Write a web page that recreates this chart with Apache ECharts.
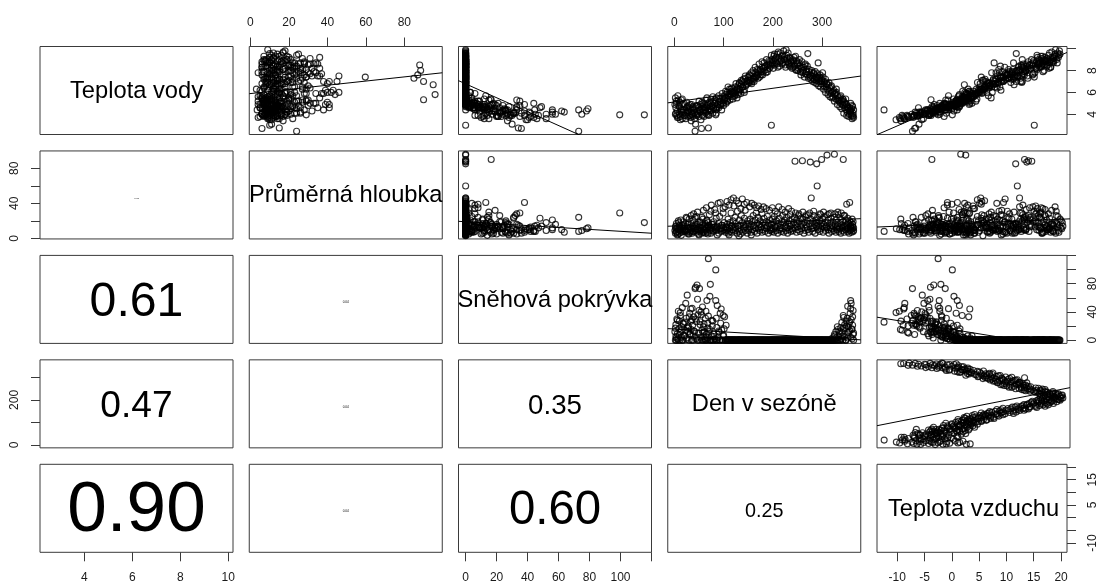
<!DOCTYPE html>
<html>
<head>
<meta charset="utf-8">
<title>Párový graf</title>
<script src="https://cdn.jsdelivr.net/npm/echarts@6/dist/echarts.min.js"></script>
<style>
  html, body { margin: 0; padding: 0; background: #ffffff; }
  #chart { width: 1099px; height: 588px; }
</style>
</head>
<body>
<div id="chart"></div>
<script>
// Názvy proměnných (pořadí sloupců i řádků matice)
const promenne = ['Teplota vody', 'Průměrná hloubka', 'Sněhová pokrývka', 'Den v sezóně', 'Teplota vzduchu'];

// Jednotlivá měření, jedna hodnota na pozorování v každém poli (dvě sezóny za sebou)
const teplotaVody = [
  4.9,5.5,4.1,4.6,5.2,3.9,4.3,5.7,3.7,4.8, 4.0,5.1,3.8,4.5,5.3,4.2,3.6,4.9,4.4,5.0, 4.4,3.9,4.1,4.6,4.2,4.7,3.8,
  4.3,4.8,3.9,4.5,3.7,4.2,4.9,4.0,3.8,4.6, 4.4,4.1,2.45,4.0,4.7,3.9,4.3,4.8,4.1,4.6, 3.8,4.4,4.2,4.9,2.7,4.5,3.9,5.0,4.3,4.6,
  4.4,4.9,4.1,5.3,4.6,4.0,4.8,4.3,3.95,2.75, 5.1,4.7,4.5,5.4,4.4,4.8,4.1,5.2,4.6,5.0, 3.95,4.4,5.5,4.5,4.7,5.1,4.6,5.4,4.9,5.0, 4.4,5.6,5.2,4.8,5.3,5.5,5.8,5.0,
  5.4,6.0,5.2,5.7,5.9,6.3,5.3,5.8,6.1,6.4, 5.6,6.0,5.9,6.5,5.8,6.2,5.5,6.6,6.0,6.3, 6.8,6.3,5.9,6.7,7.0,6.5,6.9,6.2,7.3,6.6, 7.0,6.8,7.4,
  6.9,7.5,7.1,7.2,6.8,7.7,7.3,7.0,7.4,7.8, 7.5,7.6,8.0,7.7,7.4,8.1,7.9,8.3,7.6,8.2, 8.0,8.4,7.8,8.5,8.1,8.6,8.2,8.8,3.0,
  8.4,9.0,8.6,8.9,9.3,8.5,9.1,8.7,9.5,8.3, 9.2,8.8,9.6,8.9,8.6,9.4,9.0,9.3,8.5,9.9, 9.1,8.8,8.7,9.2,8.4,8.9,8.6,9.0,
  8.3,9.2,8.5,8.1,8.9,8.6,8.0,8.7,8.4,7.9, 8.2,8.0,7.8,8.3,8.5,7.7,8.1,7.6,9.55,7.9, 7.4,7.6,7.5,7.8,7.3,7.7,7.2,7.9,7.1,7.3, 7.4,
  8.7,7.3,7.0,7.6,6.8,7.0,7.1,7.4,6.6,6.9, 7.2,6.5,6.7,6.3,6.7,6.1,6.4,5.9,6.6,6.0, 5.6,6.2,5.8,5.9,5.4,6.3,5.7,5.3,5.5,
  5.2,5.6,5.0,5.3,4.9,5.4,5.33,4.8,5.1,4.6, 5.0,4.4,4.9,4.2,4.7,4.5,4.0,4.6,4.3,4.2, 4.4,3.9,4.5,4.8,3.8,4.1,3.7,4.4,
  4.0,5.0,3.7,5.3,4.7,3.5,4.4,5.4,4.2,3.9, 3.6,5.1,4.3,4.6,4.9,3.4,4.0,4.7,3.6,3.1, 4.8,4.0,5.2,4.4,3.5,5.1,4.7,3.8,
  4.6,4.2,5.5,4.9,3.9,4.3,5.0,4.7,5.6,4.5, 5.3,4.1,4.9,5.7,5.2,4.8,5.9,5.0,5.4,6.1,
  5.2,6.5,5.6,5.9,6.3,6.0,5.4,6.1,5.7,6.8, 6.4,5.8,6.9,6.2,7.1,6.5,7.2,6.0,7.5,6.7, 7.1,
  7.6,6.9,7.8,7.0,8.0,7.2,8.3,7.4,8.1,7.3, 8.6,8.0,7.6,8.8,7.9,8.7,8.3,9.0,7.9,8.9, 8.5,
  9.4,8.7,8.2,9.5,8.9,9.2,8.6,9.7,8.4,9.0, 9.3,8.7,9.8,9.0,8.3,9.4,9.6,8.5,9.1,8.8, 8.2,
  8.9,8.4,9.3,8.0,8.7,8.2,9.0,7.6,8.8,8.3, 7.4,8.6,7.9,8.4,7.3,8.1,7.2,8.0,7.0,7.8, 6.9,7.5,6.8,
  7.7,6.6,7.4,6.5,7.2,7.8,6.3,7.0,6.0,6.8, 5.8,6.9,5.6,6.5,5.5,6.1,5.2,5.9,6.0,4.9, 5.3,
  4.7,5.7,4.5,5.2,4.1,4.9,5.4,3.9,4.6,3.8, 4.3,5.0,4.0,3.6,4.7,3.9
];
const hloubka = [
  9,6,11,14,7,8,12,5,10,18, 6,13,9,21,7,12,15,8,11,16, 8,10,24,9,7,13,5,
  10,22,7,13,9,26,11,6,14,8, 28,12,24,9,16,7,11,30,10,5, 13,8,19,9,6,24,12,7,32,10,
  9,14,6,11,35,21,7,13,18,15, 27,9,12,6,38,11,16,8,13,33, 29,10,12,9,14,40,6,11,41,8, 15,9,29,12,10,36,7,13,
  9,42,11,6,38,12,8,44,14,7, 10,46,37,9,13,43,6,11,40,3.1, 8,15,34,10,45,7,12,39,9,13, 41,6,11,
  9,36,13,7,40,10,14,38,8,12, 35,6,11,37,9,13,33,7,10,36, 12,8,34,11,14,6,32,9,10,
  12,8,35,11,7,13,31,9,14,6, 36,10,12,8,33,11,7,13,30,9, 12,6,34,10,14,8,31,11,
  9,12,88,29,7,13,10,28,8,14, 11,88.5,30,6,12,9,27,13,10,7, 29,87,46,11,8,31,12,6,14,85, 59.7,
  10,13,8,28,11,90,14,7,30,12, 9,13,95,27,10,6,12,29,8,11, 14,9,96,28,7,12,10,30,8,
  13,11,6,29,12,9,90,14,7,26, 10,13,39,11,8,12,6,41,9,12, 14,10,7,11,13,8,12,9,
  13,17,4,20,15,11,3.5,10,19,14, 9,23,16,5,12,17,8,21,14,11, 25,16,4,18,10,15,22,7,
  17,12,20,5,14,10,31,16,9,19, 13,23,4,17,25,11,15,34,18,12,
  16,22,4,18,29,15,20,12,24,17, 31,14,21,5,26,18,15,23,32,16, 20,
  17,22,4,19,26,15,21,29,17,24, 16,20,13,28,18,23,15,19,25,17, 21,
  16,22,18,25,14,20,28,17,23,15, 19,26,18,21,14,24,17,20,27,16, 22,
  18,24,15,21,17,26,19,23,16,22, 18,25,15,20,27,17,22,14,19,26, 16,21,18,
  24,15,20,27,17,22,16,25,18,14, 21,28,17,23,15,19,24,16,21,14, 27,
  17,22,15,19,26,14,21,16,23,17, 20,15,18,22,16,19
];
const snih = [
  12,0,22,5,0,30,9,2,41,16, 27,0,35,11,4,19,46,0,24,7, 25.5,14,31,3,63.7,12,20,
  18,0,38,8,44,15,0,29,21,6, 33,13,73,75,2,26,78,0,36,10, 42,73,22,4,36,14,47,0,19,5,
  12,0,31,0,8,56,3,24,115.4,34, 0,15,79,0,6,20,27,0,9,2, 99.5,56,0,18,49,4,11,0,38,44, 14,0,35,7,33,0,0,21,
  0,0,0,0,0,0,0,0,0,0, 0,0,0,0,0,0,0,0,0,0, 0,0,0,0,0,0,0,0,0,0, 0,0,0,
  0,0,0,0,0,0,0,0,0,0, 0,0,0,0,0,0,0,0,0,0, 0,0,0,0,0,0,0,0,0,
  0,0,0,0,0,0,0,0,0,0, 0,0,0,0,0,0,0,0,0,0, 0,0,0,0,0,0,0,0,
  0,0,0,0,0,0,0,0,0,0, 0,0,0,0,0,0,0,0,0,0, 0,0,0,0,0,0,0,0,0,0, 0,
  0,0,0,0,0,0,0,0,0,0, 0,0,0,0,0,0,0,0,0,3, 0,0,0,6,12,0,0,15,4,
  9,0,18,2,11,0,16.5,35,5,22, 0,27,8,31,3,19,24,13,38,56, 44.6,29,16,2,21,42,10,0,
  17,3,28,0,8,39,14,0,23,6, 52,1,17,33,9,27,45,0,12,30, 4,58,0,26,40,0,11,23,
  2,41,0,17,12,62,0,28,0,5, 0,31,0,13,0,24,0,6,16,0,
  0,0,0,0,0,0,0,0,0,0, 0,0,0,0,0,0,0,0,0,0, 0,
  0,0,0,0,0,0,0,0,0,0, 0,0,0,0,0,0,0,0,0,0, 0,
  0,0,0,0,0,0,0,0,0,0, 0,0,0,0,0,0,0,0,0,0, 0,
  0,0,0,0,0,0,0,0,0,0, 0,0,0,0,0,0,0,0,0,0, 0,0,0,
  0,0,0,0,0,0,0,0,0,0, 0,0,0,0,0,0,8,0,3,19, 0,
  13,0,25,6,32,17,0,20,48,11, 26,4,52,15,33,8
];
const den = [
  1,2,3,3,4,5,6,7,8,9, 10,11,12,13,14,15,16,17,18,19, 21,22,24,25,26,27,28,
  29,30,31,32,33,34,35,36,37,38, 39,40,42,43,44,45,46,47,48,49, 50,51,52,53,55,56,57,58,59,60,
  61,62,63,64,65,66,67,68,69,69, 71,72,73,74,75,77,78,79,80,82, 84,84,85,86,87,89,90,92,93,95, 96,98,99,100,102,103,104,105,
  106,107,108,109,111,112,113,115,116,117, 119,120,121,123,124,126,127,129,130,131, 132,133,135,136,138,139,141,142,144,145, 147,148,150,
  151,153,154,156,157,159,160,162,163,165, 167,168,170,171,173,175,176,178,179,181, 183,184,186,188,189,191,193,194,197,
  196,198,199,201,202,204,205,207,209,210, 212,214,215,217,219,220,222,224,225,227, 229,230,232,234,235,237,238,240,
  241,243,245,246,248,250,251,253,255,256, 258,260,261,263,265,266,268,270,271,273, 275,276,278,279,281,283,284,286,288,289, 290,
  292,293,295,296,298,299,300,302,303,305, 307,308,310,311,313,314,316,318,319,321, 322,324,325,326,328,329,331,332,334,
  335,336,338,339,341,342,343,343,345,346, 348,349,350,351,352,353,355,356,357,358, 358,359,360,361,362,363,364,364,
  2,4,6,8,10,12,14,16,18,20, 23,25,27,30,32,34,36,38,41,43, 45,47,50,52,54,56,58,60,
  62,64,66,68,70,72,74,76,78,80, 83,85,87,90,92,94,97,99,101,104,
  107,109,111,113,115,117,119,121,123,125, 128,130,132,134,136,138,140,142,144,146, 149,
  152,154,156,158,160,162,164,166,168,170, 172,174,176,178,180,182,184,187,189,192, 194,
  197,199,201,203,205,207,209,211,213,216, 218,220,222,224,226,228,231,233,235,237, 239,
  242,244,246,248,250,252,254,257,259,261, 264,266,268,270,272,274,277,279,281,283, 285,287,289,
  291,293,295,297,299,301,303,305,307,309, 312,314,316,318,320,322,325,327,329,331, 333,
  336,338,340,342,344,346,348,350,352,354, 356,358,359,361,362,363
];
const teplotaVzduchu = [
  -3.2,2.4,-6.5,-1.8,3.1,-8.2,-4.4,-0.6,-9.6,-2.7, -5.3,1.2,-7.4,-3.9,-1.1,-6.0,-8.7,0.4,-4.8,-2.2, -12.4,-9.1,-5.7,-3.4,-5.4,-1.5,-8.0,
  -4.1,-0.3,-6.9,-2.6,-8.8,-3.6,0.9,-5.1,-7.0,-1.9, -4.5,-2.9,-7.2,-3.9,-0.8,-5.9,-3.3,1.5,-4.8,-2.1, -6.3,-1.2,-3.0,0.2,-6.8,-2.5,-4.2,1.8,-3.7,-0.5,
  -2.8,0.6,-4.0,2.2,-1.6,-4.4,0.9,-3.1,-2.5,-6.6, 1.7,-0.4,-2.0,3.0,-1.0,0.3,-3.5,2.6,-0.9,1.1, 0.1,1.0,3.6,-1.7,1.4,2.1,-0.2,2.8,0.8,3.3, -1.3,4.0,1.9,0.5,3.1,2.4,4.6,1.0,
  2.9,5.2,1.6,3.8,2.7,6.1,0.9,4.4,3.2,6.8, 2.2,5.0,3.6,7.3,4.1,5.7,2.5,6.4,4.8,5.4, 8.0,5.9,3.9,7.7,9.4,6.2,8.6,5.1,10.2,7.0, 9.1,6.6,10.8,
  8.4,12.0,9.6,11.3,7.9,13.1,10.4,12.6,9.0,11.9, 13.8,10.7,12.3,14.9,11.5,15.6,13.2,16.3,12.8,14.4, 16.9,13.7,15.2,17.5,14.1,16.0,17.8,15.5,15.1,
  16.4,18.2,15.9,17.3,19.1,16.8,18.6,17.9,19.8,16.1, 18.4,17.1,19.4,18.0,16.6,19.6,17.6,18.8,15.8,19.0, 17.4,18.5,16.2,17.0,15.3,16.7,14.6,15.9,
  13.1,15.7,14.2,12.4,16.1,13.8,11.9,14.9,12.3,10.6, 13.2,13.6,11.0,9.7,12.7,10.3,8.6,11.4,11.8,9.3, 12.1,13.3,12.0,8.1,10.5,9.8,7.6,11.1,9.1,11.3, 11.6,
  7.75,8.9,6.3,10.2,7.4,12.9,5.8,9.5,6.9,4.7, 8.2,6.0,2.3,5.2,7.1,3.9,5.9,2.6,6.6,3.4, 1.2,4.8,1.4,2.9,0.3,5.5,3.7,-0.7,2.0,
  1.5,3.1,-1.4,2.2,0.4,2.7,-3.8,-1.9,0.9,-2.6, 1.6,-4.4,-0.2,-5.7,1.0,-3.3,-7.3,-1.0,-4.9,-2.3, -0.6,-6.2,-3.0,0.6,-8.9,-4.1,-7.9,-2.0,
  -5.8,-1.2,-7.1,0.9,-3.6,-10.2,-2.4,1.8,-6.7,-4.2, -8.6,0.1,-3.0,-6.1,-1.0,-9.3,-2.2,0.7,-5.2,-6.0, -1.7,-4.0,2.3,-2.8,-5.5,0.8,-3.3,-1.4,
  1.2,-2.2,2.8,-0.6,-3.8,0.4,2.0,-1.9,3.9,0.0, 2.4,-1.0,3.2,1.3,4.4,-0.2,2.6,3.7,1.5,5.1,
  3.4,6.0,1.9,5.5,3.0,7.4,4.6,2.0,6.7,5.2, 8.3,3.5,6.9,9.0,5.6,7.9,10.9,6.4,8.8,11.4, 7.6,
  10.0,12.8,8.7,11.8,13.6,9.9,12.9,15.1,11.2,13.9, 16.6,12.5,14.8,17.2,13.4,15.9,18.1,14.6,16.7,18.7, 14.3,
  17.7,19.3,15.4,18.9,16.9,19.5,15.7,18.3,17.4,19.2, 16.3,18.6,19.7,16.9,18.1,15.6,17.9,14.9,16.5,18.0, 13.9,
  15.0,12.8,16.6,13.5,11.3,15.4,12.9,10.1,14.0,12.2, 9.2,13.1,11.7,8.9,12.6,10.4,8.0,11.9,9.4,7.3, 10.8,8.4,6.7,
  9.9,7.0,5.4,8.8,6.1,10.6,4.5,7.8,5.6,8.5, 4.2,6.5,2.9,5.1,7.2,3.2,0.8,4.4,2.4,-1.2, 1.7,
  -0.6,2.6,-2.9,0.7,-4.9,-1.4,1.9,-6.4,-2.5,-8.1, -3.7,0.2,-5.1,-9.4,-1.8,-6.8
];

// Absolutní hodnoty korelací pod diagonálou
const korelaceHloubka = [0.03, 0.04, 0.04, 0.04];   // hloubka vs. voda, sníh, den, vzduch
const korelaceVoda = [0.61, 0.47, 0.90];             // voda vs. sníh, den, vzduch
const korelaceSnih = [0.35, 0.60];                   // sníh vs. den, vzduch
const korelaceDen = [0.25];                          // den vs. vzduch

// Značky a popisky os
const vodaTicks = [4, 6, 8, 10];
const vodaLabelsDole = [4, 6, 8, 10];
const vodaLabelsVpravo = [4, 6, 8];
const hloubkaTicks = [0, 20, 40, 60, 80];
const hloubkaLabelsNahore = [0, 20, 40, 60, 80];
const hloubkaLabelsVlevo = [0, 40, 80];
const snihTicks = [0, 20, 40, 60, 80, 100, 120];
const snihLabelsDole = [0, 20, 40, 60, 80, 100];
const snihLabelsVpravo = [0, 40, 80];
const denTicks = [0, 100, 200, 300];
const denLabelsNahore = [0, 100, 200, 300];
const denLabelsVlevo = [0, 200];
const vzduchTicks = [-10, -5, 0, 5, 10, 15, 20];
const vzduchLabelsDole = [-10, -5, 0, 5, 10, 15, 20];
const vzduchLabelsVpravo = [-10, 5, 15];

// ---------------------------------------------------------------
const sloupce = [teplotaVody, hloubka, snih, den, teplotaVzduchu];
const n = Math.min.apply(null, sloupce.map(c => c.length));
const K = promenne.length;

// rozsah os: rozpětí dat rozšířené o 4 % na každou stranu
const rozsah = sloupce.map(c => {
  let a = Infinity, b = -Infinity;
  for (let t = 0; t < n; t++) { a = Math.min(a, c[t]); b = Math.max(b, c[t]); }
  const p = (b - a) * 0.04;
  return [a - p, b + p];
});

// matice korelací (dolní trojúhelník)
const kor = [];
for (let i = 0; i < K; i++) kor.push(new Array(K).fill(null));
kor[1][0] = korelaceHloubka[0];
kor[2][1] = korelaceHloubka[1];
kor[3][1] = korelaceHloubka[2];
kor[4][1] = korelaceHloubka[3];
kor[2][0] = korelaceVoda[0];
kor[3][0] = korelaceVoda[1];
kor[4][0] = korelaceVoda[2];
kor[3][2] = korelaceSnih[0];
kor[4][2] = korelaceSnih[1];
kor[4][3] = korelaceDen[0];

const osaNahore = [null, { t: hloubkaTicks, l: hloubkaLabelsNahore }, null, { t: denTicks, l: denLabelsNahore }, null];
const osaDole = [{ t: vodaTicks, l: vodaLabelsDole }, null, { t: snihTicks, l: snihLabelsDole }, null, { t: vzduchTicks, l: vzduchLabelsDole }];
const osaVlevo = [null, { t: hloubkaTicks, l: hloubkaLabelsVlevo }, null, { t: denTicks, l: denLabelsVlevo }, null];
const osaVpravo = [{ t: vodaTicks, l: vodaLabelsVpravo }, null, { t: snihTicks, l: snihLabelsVpravo }, null, { t: vzduchTicks, l: vzduchLabelsVpravo }];

// rozvržení panelů
const LEVY0 = 40, SIRKA = 193, KROK_X = 209.25;
const HORNI0 = 46.5, VYSKA = 88, KROK_Y = 104.45;
const PISMO = "'Liberation Sans', Arial, Helvetica, sans-serif";
const BARVA_RAMU = '#3a3a3a';

function nastavOsu(base, strana, spec, margin) {
  if (!spec) {
    base.axisTick = { show: false };
    base.axisLabel = { show: false };
    return base;
  }
  const svisla = (strana === 'left' || strana === 'right');
  base.position = strana;
  base.axisTick = { show: true, inside: false, length: 9, customValues: spec.t, lineStyle: { color: BARVA_RAMU, width: 1 } };
  base.axisLabel = {
    show: true, customValues: spec.l, margin: margin, fontSize: 12, fontFamily: PISMO,
    color: '#1a1a1a', rotate: svisla ? 90 : 0
  };
  return base;
}

function regrese(xs, ys) {
  let sx = 0, sy = 0, sxx = 0, sxy = 0;
  for (let t = 0; t < n; t++) { sx += xs[t]; sy += ys[t]; sxx += xs[t] * xs[t]; sxy += xs[t] * ys[t]; }
  const b = (n * sxy - sx * sy) / (n * sxx - sx * sx);
  const a = (sy - b * sx) / n;
  return [a, b];
}

const grids = [], xAxes = [], yAxes = [], series = [], texty = [];
for (let i = 0; i < K; i++) {
  for (let j = 0; j < K; j++) {
    const k = grids.length;
    const left = LEVY0 + j * KROK_X, top = HORNI0 + i * KROK_Y;
    grids.push({ left: left, top: top, width: SIRKA, height: VYSKA, show: true, borderColor: BARVA_RAMU, borderWidth: 1, backgroundColor: 'transparent', containLabel: false });

    const xa = { gridIndex: k, type: 'value', min: rozsah[j][0], max: rozsah[j][1], splitLine: { show: false }, axisLine: { show: false, onZero: false } };
    if (i === 0 && osaNahore[j]) nastavOsu(xa, 'top', osaNahore[j], 18);
    else if (i === K - 1 && osaDole[j]) nastavOsu(xa, 'bottom', osaDole[j], 19);
    else nastavOsu(xa, 'bottom', null);
    xAxes.push(xa);

    const ya = { gridIndex: k, type: 'value', min: rozsah[i][0], max: rozsah[i][1], splitLine: { show: false }, axisLine: { show: false, onZero: false } };
    if (j === 0 && osaVlevo[i]) nastavOsu(ya, 'left', osaVlevo[i], 19);
    else if (j === K - 1 && osaVpravo[i]) nastavOsu(ya, 'right', osaVpravo[i], 20);
    else nastavOsu(ya, 'left', null);
    yAxes.push(ya);

    const cx = left + SIRKA / 2, cy = top + VYSKA / 2;
    if (i === j) {
      texty.push({ type: 'text', x: cx, y: cy + 1, silent: true,
        style: { text: promenne[i], fontSize: 23.7, fontFamily: PISMO, fill: '#000',
                 align: 'center', verticalAlign: 'middle', textAlign: 'center', textVerticalAlign: 'middle' } });
    } else if (i > j) {
      const r = kor[i][j];
      texty.push({ type: 'text', x: cx, y: cy + 3, silent: true,
        style: { text: r.toFixed(2), fontSize: 79 * r, fontFamily: PISMO, fill: '#000',
                 align: 'center', verticalAlign: 'middle', textAlign: 'center', textVerticalAlign: 'middle' } });
    } else {
      const xs = sloupce[j], ys = sloupce[i];
      const body = [];
      for (let t = 0; t < n; t++) body.push([xs[t], ys[t]]);
      series.push({
        type: 'scatter', xAxisIndex: k, yAxisIndex: k, data: body,
        symbol: 'circle', symbolSize: 6, silent: true,
        itemStyle: { color: 'rgba(0,0,0,0)', borderColor: '#000', borderWidth: 1.1 },
        emphasis: { disabled: true }
      });
      const [a, b] = regrese(xs, ys);
      const x0 = rozsah[j][0], x1 = rozsah[j][1];
      series.push({
        type: 'line', xAxisIndex: k, yAxisIndex: k, clip: true, silent: true,
        data: [[x0, a + b * x0], [x1, a + b * x1]],
        showSymbol: false, symbol: 'none',
        lineStyle: { color: '#000', width: 1 },
        emphasis: { disabled: true }
      });
    }
  }
}

const chart = echarts.init(document.getElementById('chart'), null, { renderer: 'canvas' });
chart.setOption({
  animation: false,
  backgroundColor: '#ffffff',
  grid: grids,
  xAxis: xAxes,
  yAxis: yAxes,
  series: series,
  graphic: { elements: texty }
});
</script>
</body>
</html>
